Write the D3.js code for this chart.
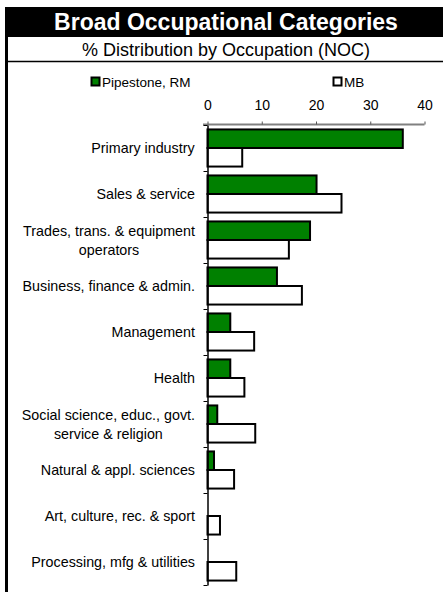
<!DOCTYPE html>
<html><head><meta charset="utf-8">
<script src="https://cdn.jsdelivr.net/npm/d3@7"></script>
<style>
html,body{margin:0;padding:0;background:#fff;}
svg{display:block;font-family:"Liberation Sans",Arial,sans-serif;}
</style></head>
<body><svg id="c" width="443" height="592"></svg>
<script>
const categories = [
  "Primary industry",
  "Sales & service",
  "Trades, trans. & equipment\noperators",
  "Business, finance & admin.",
  "Management",
  "Health",
  "Social science, educ., govt.\nservice & religion",
  "Natural & appl. sciences",
  "Art, culture, rec. & sport",
  "Processing, mfg & utilities"
];
const pipestone = [36.0, 20.1, 18.9, 12.8, 4.2, 4.2, 1.8, 1.2, 0, 0];
const mb = [6.4, 24.7, 15.0, 17.4, 8.6, 6.8, 8.8, 4.9, 2.3, 5.3];
const seriesNames = ["Pipestone, RM", "MB"];
const seriesColors = ["#008000", "#ffffff"];
const xTicks = [0, 10, 20, 30, 40];
const title = "Broad Occupational Categories";
const subtitle = "% Distribution by Occupation (NOC)";

const svg = d3.select("#c");

// header
svg.append("rect").attr("x", 5).attr("y", 7).attr("width", 438).attr("height", 30).attr("fill", "#000");
svg.append("rect").attr("x", 5).attr("y", 7).attr("width", 3).attr("height", 585).attr("fill", "#000");
svg.append("line").attr("x1", 5).attr("x2", 443).attr("y1", 61.5).attr("y2", 61.5).attr("stroke", "#000").attr("stroke-width", 1.5);
svg.append("text").attr("x", 226).attr("y", 30).attr("text-anchor", "middle")
  .attr("fill", "#fff").attr("font-weight", "bold").attr("font-size", 23).text(title);
svg.append("text").attr("x", 226).attr("y", 56).attr("text-anchor", "middle")
  .attr("fill", "#000").attr("font-size", 18).text(subtitle);

// scales
const x = d3.scaleLinear().domain([0, 40]).range([207.5, 424.5]);
const y = d3.scaleBand().domain(categories).range([125, 585]).paddingInner(0).paddingOuter(0);
const ySub = d3.scaleBand().domain(seriesNames).range([0, y.bandwidth()]).paddingInner(0).paddingOuter(0.24);
const yIdx = d3.scaleLinear().domain([0, categories.length]).range([125, 585]);

// legend
const legendX = [91, 333];
seriesNames.forEach((s, i) => {
  svg.append("rect").attr("x", legendX[i] + 0.5).attr("y", 77.5).attr("width", 8).attr("height", 8)
    .attr("fill", seriesColors[i]).attr("stroke", "#000").attr("stroke-width", 2);
  svg.append("text").attr("x", legendX[i] + 11).attr("y", 86.5).attr("font-size", 13.5).attr("fill", "#000").text(s);
});

// x axis (top)
const xa = svg.append("g").attr("transform", "translate(0,124.5)")
  .call(d3.axisTop(x).tickValues(xTicks).tickSize(3).tickSizeOuter(0).tickPadding(12));
xa.select(".domain").attr("stroke", "#808080").attr("stroke-width", 2).attr("d", `M203,0H${x(40)}`);
xa.selectAll(".tick line").attr("stroke", "#555").attr("stroke-width", 1);
xa.selectAll(".tick text").attr("font-size", 14).attr("fill", "#000")
  .attr("font-family", "Liberation Sans, Arial, sans-serif");

// bars
const data = [];
categories.forEach((c, i) => {
  data.push({c, s: seriesNames[0], v: pipestone[i], col: seriesColors[0]});
  data.push({c, s: seriesNames[1], v: mb[i], col: seriesColors[1]});
});
svg.append("g").selectAll("rect").data(data.filter(d => d.v > 0)).join("rect")
  .attr("x", x(0))
  .attr("y", d => y(d.c) + ySub(d.s))
  .attr("width", d => x(d.v) - x(0))
  .attr("height", ySub.bandwidth())
  .attr("fill", d => d.col)
  .attr("stroke", "#000").attr("stroke-width", 2);

// y axis (left)
const ya = svg.append("g").attr("transform", `translate(${x(0)},0)`)
  .call(d3.axisLeft(yIdx).tickValues(d3.range(categories.length + 1)).tickFormat("").tickSize(4).tickSizeOuter(0));
ya.select(".domain").attr("stroke", "#000").attr("stroke-width", 1.5);
ya.selectAll(".tick line").attr("stroke", "#000");

// category labels
const labelRight = 195;
categories.forEach(c => {
  const lines = c.split("\n");
  const cy = y(c) + y.bandwidth() / 2;
  const lh = 19;
  const t = svg.append("text").attr("font-size", 14.3).attr("fill", "#000").attr("text-anchor", "middle");
  lines.forEach((ln, j) => {
    t.append("tspan").attr("x", 0).attr("y", cy + 5 + (j - (lines.length - 1) / 2) * lh).text(ln);
  });
  const w = t.node().getBBox().width;
  t.attr("transform", `translate(${labelRight - w / 2},0)`);
});
</script></body></html>
